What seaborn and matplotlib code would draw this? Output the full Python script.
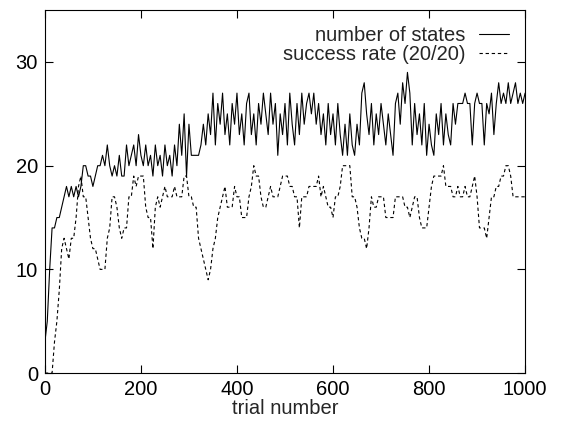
import numpy as np
import seaborn as sns
from matplotlib import pyplot as plt

# trial numbers (read every 5 trials)
trials = np.arange(0, 1001, 5)

# number of states
num_states = [
    3, 5, 10, 14, 14, 15, 15, 16, 17, 18, 17, 18, 17, 18, 17, 18, 20, 20, 19, 19,
    18, 19, 20, 20, 21, 20, 22, 20, 19, 20, 19, 21, 19, 19, 22, 20, 21, 22, 20, 23,
    21, 20, 22, 20, 21, 19, 22, 20, 21, 19, 22, 20, 21, 19, 22, 20, 24, 21, 25, 19,
    24, 21, 21, 21, 21, 22, 24, 22, 25, 23, 27, 22, 26, 24, 27, 23, 25, 22, 26, 24,
    27, 23, 25, 22, 26, 27, 23, 25, 22, 26, 24, 27, 25, 23, 27, 24, 26, 21, 25, 23,
    26, 22, 27, 24, 22, 26, 23, 27, 24, 26, 27, 25, 27, 24, 26, 23, 25, 22, 26, 23,
    25, 22, 26, 23, 21, 24, 21, 25, 22, 21, 24, 22, 27, 28, 25, 23, 26, 22, 25, 23,
    26, 24, 22, 25, 23, 21, 26, 27, 24, 28, 26, 29, 27, 22, 26, 23, 25, 22, 26, 21,
    24, 22, 21, 25, 23, 26, 22, 25, 23, 22, 26, 24, 26, 26, 26, 27, 26, 26, 22, 26,
    27, 26, 26, 22, 26, 25, 27, 23, 26, 28, 26, 27, 26, 28, 26, 27, 28, 26, 27, 26,
    27,
]

# success rate (out of 20)
success_rate = [
    0, 0, 0, 0, 3, 5, 8, 12, 13, 12, 11, 13, 13, 15, 18, 19, 17, 17, 15, 13,
    12, 12, 11, 10, 10, 10, 13, 14, 17, 17, 16, 14, 13, 14, 14, 17, 17, 19, 18, 19,
    19, 19, 16, 15, 15, 12, 16, 17, 16, 17, 18, 17, 17, 17, 18, 17, 17, 17, 19, 19,
    17, 17, 16, 16, 13, 12, 11, 10, 9, 10, 12, 13, 15, 16, 17, 18, 16, 16, 16, 18,
    17, 17, 15, 15, 15, 17, 18, 20, 19, 19, 17, 16, 16, 17, 18, 17, 17, 17, 18, 19,
    19, 19, 18, 18, 17, 17, 14, 17, 17, 17, 18, 18, 18, 18, 19, 17, 18, 17, 16, 16,
    15, 17, 17, 18, 20, 20, 20, 20, 17, 17, 16, 14, 13, 13, 12, 14, 17, 16, 16, 17,
    17, 17, 15, 15, 15, 15, 17, 17, 17, 17, 16, 16, 15, 16, 17, 17, 15, 14, 14, 14,
    16, 18, 19, 19, 19, 19, 20, 18, 18, 18, 17, 17, 18, 17, 17, 18, 17, 17, 18, 19,
    17, 14, 14, 14, 13, 15, 17, 17, 18, 18, 19, 19, 20, 20, 19, 17, 17, 17, 17, 17,
    17,
]

x_ticks = [0, 200, 400, 600, 800, 1000]
y_ticks = [0, 10, 20, 30]

sns.set_theme(style='ticks')
plt.rcParams['font.family'] = ['Liberation Sans', 'DejaVu Sans']

fig = plt.figure(figsize=(5.61, 4.23), dpi=100)
ax = fig.add_axes([0.080, 0.118, 0.856, 0.858])

sns.lineplot(x=trials, y=num_states, color='black', linewidth=0.8,
             label='number of states', ax=ax)
sns.lineplot(x=trials, y=success_rate, color='black', linewidth=0.8,
             linestyle=(0, (3, 2.5)), label='success rate (20/20)', ax=ax)

ax.set_xlim(0, 1000)
ax.set_ylim(0, 35)
ax.set_xticks(x_ticks)
ax.set_yticks(y_ticks)
ax.tick_params(direction='in', top=True, right=True, length=6, width=0.8,
               labelsize=14.5, pad=5, colors='black')
for sp in ax.spines.values():
    sp.set_visible(True)
    sp.set_linewidth(0.8)
    sp.set_color('black')

ax.set_xlabel('trial number', fontsize=14.5, labelpad=0)
ax.set_ylabel('')

leg = ax.legend(loc='upper right', frameon=False, markerfirst=False, fontsize=14.5,
                handlelength=1.5, handletextpad=0.65, labelspacing=0.0,
                borderaxespad=0.4)
# right-align legend text like gnuplot's key
for col in leg._legend_box._children[-1]._children:
    col.align = 'right'

plt.savefig('out.png', dpi=100)
